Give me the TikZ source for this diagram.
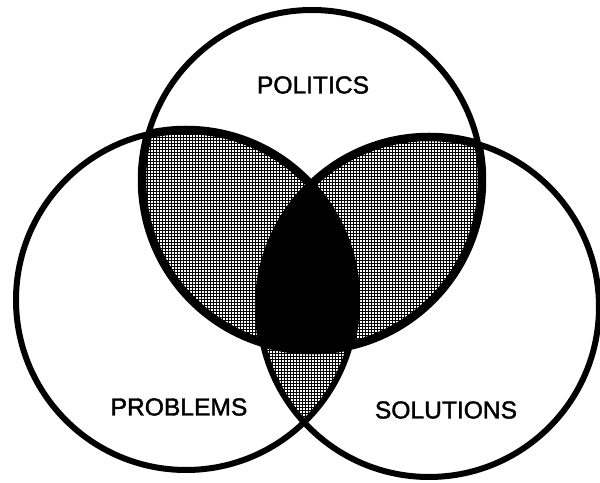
\documentclass[tikz,border=0pt]{standalone}
\usepackage{fontspec}
\setmainfont{Liberation Sans}
\newfontfamily\vennfont[FakeBold=1.6]{Liberation Sans}
\usetikzlibrary{patterns.meta}

\tikzdeclarepattern{
  name = scanmesh,
  bounding box = {(0,0) and (1.7pt,1.7pt)},
  tile size = {(1.7pt,1.7pt)},
  code = {
    \draw[line width=0.45pt] (0,0.85pt) -- (1.7pt,0.85pt) (0.85pt,0) -- (0.85pt,1.7pt);
  }
}

\begin{document}
\begin{tikzpicture}[x = 0.02cm, y = 0.02cm,
    outline/.style = {line width=0.12cm},
    heavyrim/.style = {line width=0.17cm},
    meshfill/.style = {pattern=scanmesh},
    vennlabel/.style = {font=\vennfont\fontsize{14}{16}\selectfont}]
  \useasboundingbox (0,0) rectangle (600,483);
  \coordinate (politicsc) at (312,303);
  \coordinate (problemsc) at (186,183);
  \coordinate (solutionsc) at (429,176);

  \begin{scope}
    \clip (politicsc) circle (170);
    \fill[meshfill] (problemsc) circle (170);
    \fill[meshfill] (solutionsc) circle (170);
  \end{scope}
  \begin{scope}
    \clip (problemsc) circle (170);
    \fill[meshfill] (solutionsc) circle (170);
  \end{scope}
  \begin{scope}
    \clip (politicsc) circle (170);
    \clip (problemsc) circle (170);
    \fill (solutionsc) circle (170);
  \end{scope}

  \draw[outline] (politicsc) circle (170) (problemsc) circle (170) (solutionsc) circle (170);

  % heavier rim round the shaded lenses
  \begin{scope}
    \clip (politicsc) circle (170);
    \draw[heavyrim] (problemsc) circle (170) (solutionsc) circle (170);
  \end{scope}
  \begin{scope}
    \clip (problemsc) circle (170);
    \draw[heavyrim] (politicsc) circle (170);
  \end{scope}
  \begin{scope}
    \clip (solutionsc) circle (170);
    \draw[heavyrim] (politicsc) circle (170);
  \end{scope}

  \node[vennlabel] (politics) at (313,398) {POLITICS};
  \node[vennlabel] (problems) at (179,76) {PROBLEMS};
  \node[vennlabel] (solutions) at (446,73) {SOLUTIONS};
\end{tikzpicture}
\end{document}
